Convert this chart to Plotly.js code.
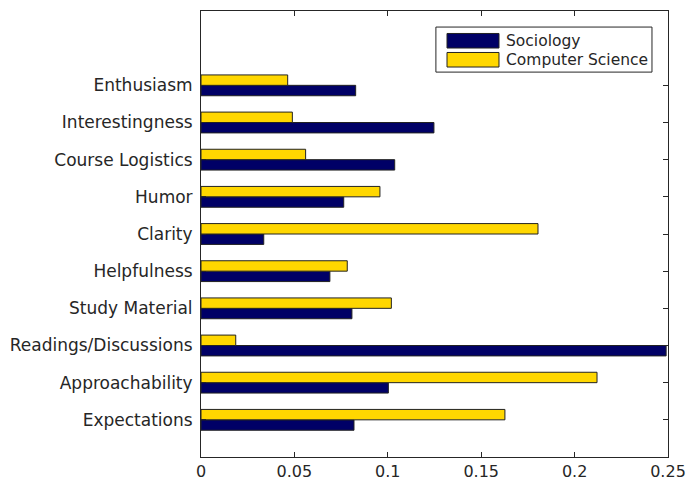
<!DOCTYPE html>
<html>
<head>
<meta charset="utf-8">
<script src="https://cdn.plot.ly/plotly-3.0.1.min.js"></script>
<style>html,body{margin:0;padding:0;background:#fff;}#chart{width:689px;height:481px;}</style>
</head>
<body>
<div id="chart"></div>
<script>
const categories = ["Expectations", "Approachability", "Readings/Discussions", "Study Material", "Helpfulness", "Clarity", "Humor", "Course Logistics", "Interestingness", "Enthusiasm"];
const seriesNames = ["Sociology", "Computer Science"];
const seriesColors = ["#000066", "#FFD700"];
const sociology = [0.0819, 0.1003, 0.249, 0.0808, 0.069, 0.0336, 0.0764, 0.1037, 0.1247, 0.0828];
const computerScience = [0.1627, 0.212, 0.0186, 0.1019, 0.0783, 0.1804, 0.0958, 0.056, 0.0489, 0.0464];
const xTicks = [0, 0.05, 0.1, 0.15, 0.2, 0.25];

const ink = '#262626';
const edge = '#222222';
const seriesValues = [sociology, computerScience];
const traces = seriesNames.map((name, i) => ({
  type: 'bar', orientation: 'h', name: name, y: categories, x: seriesValues[i],
  marker: {color: seriesColors[i], line: {color: edge, width: 1}}
}));

// Legend drawn in paper coordinates (MATLAB-style wide swatches)
const shapes = [
  {type: 'rect', xref: 'paper', yref: 'paper', x0: 0.503, x1: 0.9657, y0: 0.863, y1: 0.964,
   line: {color: ink, width: 1}, fillcolor: '#fff', layer: 'above'}
];
const annotations = [];
const swY = [[0.917, 0.9496], [0.8744, 0.907]];
const txtY = [0.9327, 0.890];
seriesNames.forEach((name, i) => {
  shapes.push({type: 'rect', xref: 'paper', yref: 'paper', x0: 0.5268, x1: 0.6381,
               y0: swY[i][0], y1: swY[i][1], fillcolor: seriesColors[i],
               line: {color: edge, width: 1}, layer: 'above'});
  annotations.push({xref: 'paper', yref: 'paper', x: 0.6488, y: txtY[i], xanchor: 'left',
                    yanchor: 'middle', text: name, showarrow: false,
                    font: {size: 15.5, color: ink}});
});

const layout = {
  width: 689, height: 481,
  margin: {l: 201, r: 21, t: 11, b: 24, pad: 0},
  paper_bgcolor: '#fff', plot_bgcolor: '#fff',
  barmode: 'group', bargap: 0.44, bargroupgap: 0,
  font: {family: 'DejaVu Sans', size: 16, color: ink},
  showlegend: false,
  shapes: shapes,
  annotations: annotations,
  xaxis: {range: [0, 0.25], tickvals: xTicks, ticks: 'inside', ticklen: 5, tickcolor: ink,
          showgrid: false, zeroline: false, showline: true, linecolor: ink, linewidth: 1,
          mirror: 'ticks', tickfont: {size: 16, color: ink}},
  yaxis: {type: 'category', categoryorder: 'array', categoryarray: categories, range: [-1, 11],
          ticks: 'inside', ticklen: 5, tickcolor: ink, showgrid: false, zeroline: false,
          showline: true, linecolor: ink, linewidth: 1, mirror: 'ticks',
          tickfont: {size: 17, color: ink}, ticklabelstandoff: 4}
};
Plotly.newPlot('chart', traces, layout, {displayModeBar: false, staticPlot: true});
</script>
</body>
</html>
